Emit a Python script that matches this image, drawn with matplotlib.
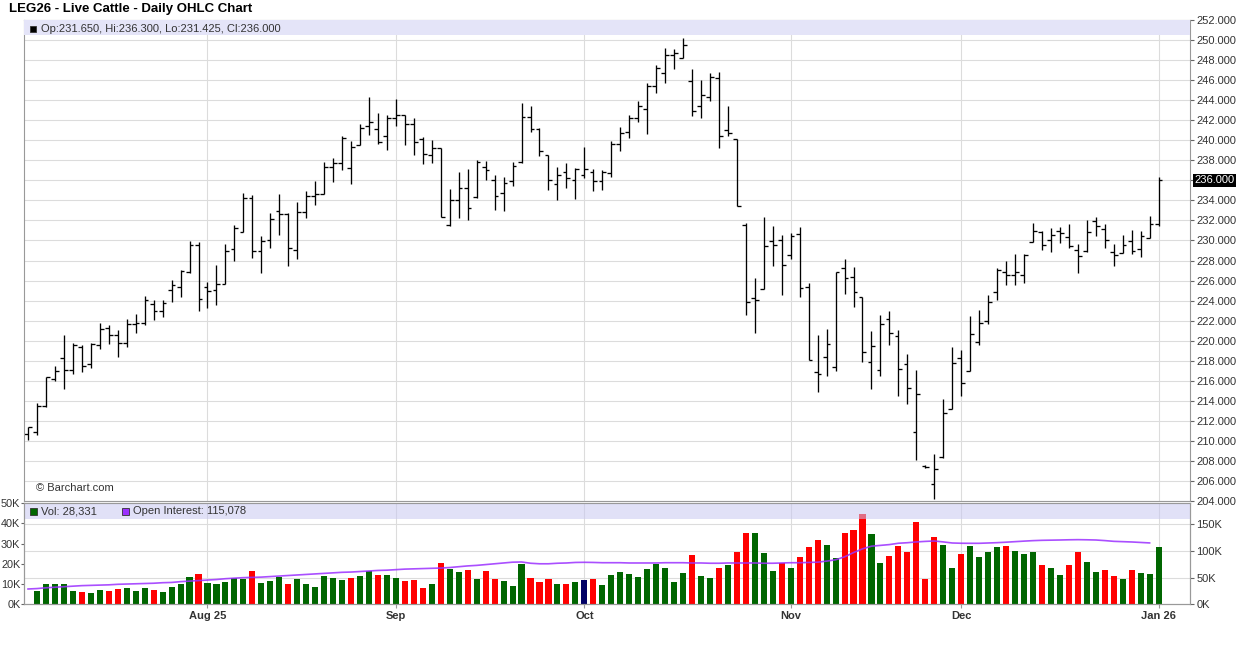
import numpy as np
import pandas as pd
import matplotlib
matplotlib.use("Agg")
import matplotlib.pyplot as plt
from matplotlib.patches import Rectangle

plt.rcParams['font.family'] = ['Liberation Sans', 'DejaVu Sans']

# ---------------------------
# DATA
# ---------------------------
holidays = pd.to_datetime(["2025-07-04", "2025-09-01", "2025-11-27", "2025-12-25", "2026-01-01"])
dates = pd.bdate_range("2025-07-03", "2026-01-02")
dates = dates[~dates.isin(holidays)]

open_ = [210.65, 210.9, 213.5, 216.2, 218.3, 217.1, 219.4, 217.7, 219.6, 221.3,
         220.6, 219.8, 221.7, 221.8, 223.7, 223.0, 225.1, 225.4, 226.85, 229.5,
         225.4, 225.1, 225.7, 229.1, 230.8, 234.2, 228.9, 230.0, 232.9, 232.6,
         229.0, 232.8, 234.4, 234.6, 237.3, 237.7, 237.2, 239.5, 241.4, 241.1,
         240.4, 242.2, 242.5, 241.6, 240.1, 238.5, 239.2, 231.5, 234.0, 235.2,
         234.3, 237.3, 236.0, 234.7, 235.9, 237.8, 242.3, 241.1, 238.5, 235.6,
         236.8, 236.0, 236.5, 236.8, 235.9, 236.7, 239.6, 240.8, 242.2, 243.1,
         245.4, 246.7, 248.5, 248.2, 245.9, 243.4, 244.3, 246.2, 241.0, 240.1,
         231.5, 224.3, 225.2, 229.9, 230.0, 228.5, 230.6, 225.4, 216.9, 218.4,
         217.4, 227.3, 226.4, 224.4, 217.9, 217.1, 222.2, 220.5, 217.7, 210.9,
         207.5, 205.7, 208.4, 213.2, 218.3, 217.0, 219.9, 222.0, 224.9, 226.9,
         226.6, 226.6, 229.8, 230.8, 230.0, 230.9, 230.3, 229.0, 228.9, 231.9,
         231.1, 228.8, 228.7, 229.9, 229.1, 230.2, 231.65]
high = [211.4, 213.8, 216.4, 217.5, 220.6, 219.8, 219.6, 219.8, 221.8, 221.6,
        221.1, 222.2, 222.7, 224.5, 224.1, 224.1, 226.1, 227.1, 229.9, 229.8,
        225.85, 227.6, 229.6, 231.5, 234.7, 234.5, 230.4, 232.7, 234.6, 232.7,
        233.8, 234.9, 235.9, 237.8, 238.2, 240.4, 239.9, 241.6, 244.3, 242.7,
        242.5, 244.1, 242.5, 242.2, 240.3, 240.0, 239.2, 235.1, 236.8, 237.1,
        238.0, 237.9, 236.5, 236.3, 237.8, 243.7, 243.4, 241.2, 238.5, 237.3,
        237.7, 237.2, 239.3, 237.1, 237.0, 239.9, 241.3, 242.5, 243.9, 245.7,
        247.5, 249.2, 249.1, 250.2, 247.1, 246.0, 246.7, 246.8, 243.4, 240.1,
        231.7, 226.3, 232.3, 231.4, 230.5, 230.7, 231.3, 225.8, 220.6, 221.2,
        226.9, 228.1, 227.4, 224.4, 221.0, 222.6, 223.0, 221.1, 218.7, 217.1,
        207.6, 208.7, 214.2, 219.4, 219.1, 222.5, 223.1, 224.6, 227.3, 228.0,
        228.6, 228.6, 231.7, 230.9, 231.2, 231.3, 231.6, 229.6, 232.0, 232.3,
        231.6, 229.6, 230.5, 231.0, 230.9, 232.4, 236.3]
low = [210.1, 210.55, 213.4, 216.0, 215.2, 216.7, 216.9, 217.3, 219.2, 219.7,
       218.4, 219.4, 220.8, 221.6, 222.1, 222.4, 223.9, 224.4, 226.8, 223.0,
       223.25, 223.6, 225.7, 228.0, 230.8, 228.2, 226.8, 229.2, 230.5, 227.5,
       228.1, 232.2, 233.5, 234.6, 235.8, 237.0, 235.6, 239.5, 240.5, 239.6,
       239.0, 241.4, 239.5, 238.5, 237.6, 237.7, 232.3, 231.4, 232.2, 232.0,
       234.2, 236.0, 233.0, 232.9, 235.4, 237.7, 240.8, 238.4, 235.0, 234.0,
       235.2, 234.1, 236.2, 234.9, 235.0, 236.3, 238.9, 240.2, 241.8, 240.6,
       244.7, 245.7, 247.1, 248.2, 242.4, 242.2, 243.9, 239.2, 240.4, 233.4,
       222.6, 220.8, 225.2, 227.5, 224.6, 228.1, 224.4, 218.1, 214.9, 216.5,
       217.0, 224.7, 223.4, 217.9, 215.2, 216.5, 219.6, 214.5, 213.7, 208.1,
       207.3, 204.2, 208.3, 213.2, 214.5, 217.0, 219.6, 221.7, 224.1, 225.6,
       225.6, 225.8, 229.8, 229.0, 228.8, 229.7, 229.2, 226.8, 228.8, 230.4,
       229.2, 227.5, 228.7, 228.6, 228.3, 230.2, 231.425]
close = [211.35, 213.5, 216.35, 217.0, 217.1, 219.6, 217.5, 219.7, 221.2, 220.6,
         219.8, 221.7, 221.8, 224.1, 223.0, 223.8, 225.6, 227.0, 229.5, 224.2,
         225.0, 225.7, 228.9, 231.2, 234.2, 228.9, 229.9, 232.1, 232.6, 229.2,
         232.8, 234.4, 234.6, 237.3, 237.7, 240.2, 239.3, 241.2, 241.8, 239.8,
         242.2, 242.5, 241.6, 239.8, 238.6, 239.2, 232.3, 234.0, 235.2, 233.2,
         237.8, 237.0, 234.4, 235.7, 237.4, 242.3, 241.1, 238.9, 236.0, 236.5,
         236.2, 237.1, 237.1, 235.9, 236.8, 239.6, 240.7, 242.2, 243.4, 245.4,
         247.2, 248.5, 248.7, 249.5, 242.9, 244.5, 246.3, 240.4, 240.7, 233.4,
         223.9, 224.1, 229.4, 229.5, 227.6, 230.4, 225.3, 218.1, 216.7, 219.7,
         226.9, 226.3, 224.9, 218.9, 219.5, 221.7, 220.8, 217.2, 215.3, 214.7,
         207.4, 207.2, 212.8, 217.8, 215.8, 220.7, 221.8, 223.9, 227.1, 226.6,
         226.9, 228.5, 230.9, 229.5, 230.5, 230.7, 229.4, 228.4, 230.8, 231.4,
         230.0, 228.5, 229.5, 228.9, 230.4, 231.6, 236.0]

# volume in thousands (left scale), first day not shown
volume = [np.nan, 6.6, 10.0, 10.0, 10.0, 6.6, 6.1, 5.6, 7.1, 6.6,
          7.6, 8.0, 6.6, 8.0, 7.1, 6.1, 8.5, 10.0, 13.5, 14.9,
          10.5, 10.0, 11.0, 13.0, 12.5, 16.4, 10.5, 11.5, 13.5, 10.0,
          12.5, 10.0, 8.5, 14.0, 13.0, 12.0, 13.0, 14.0, 16.4, 14.5,
          14.5, 13.0, 11.5, 12.0, 8.0, 10.0, 20.4, 17.4, 15.9, 16.9,
          12.5, 16.4, 12.5, 11.5, 9.0, 19.9, 13.0, 11.0, 12.5, 10.0,
          10.0, 11.0, 12.0, 12.5, 9.5, 14.5, 15.9, 14.9, 13.5, 17.4,
          19.9, 17.9, 11.0, 15.4, 24.3, 14.0, 13.0, 17.9, 19.4, 25.8,
          35.1, 35.1, 25.3, 16.4, 20.4, 17.9, 23.3, 28.2, 31.7, 29.2,
          22.8, 35.1, 36.6, 44.5, 34.6, 20.4, 23.8, 28.7, 25.8, 40.6,
          12.5, 33.2, 29.2, 17.9, 24.8, 28.7, 23.3, 25.8, 28.2, 28.7,
          26.3, 24.8, 25.8, 19.4, 17.9, 14.5, 19.4, 25.8, 20.9, 15.9,
          16.9, 14.0, 12.5, 16.9, 15.4, 14.9, 28.331]

# open interest in thousands (right scale), last day not yet reported
open_interest = [28.7, 29.5, 31.0, 32.0, 33.0, 34.0, 35.0, 35.5, 36.0, 36.5,
                 37.5, 38.0, 38.5, 39.0, 39.5, 40.5, 41.0, 42.5, 43.5, 44.5,
                 45.5, 46.5, 48.0, 49.0, 50.0, 50.5, 51.0, 52.0, 53.0, 54.0,
                 55.0, 56.0, 57.0, 58.0, 59.0, 60.0, 60.5, 61.5, 62.5, 63.5,
                 64.0, 65.0, 66.0, 66.5, 67.0, 67.5, 68.0, 69.0, 70.5, 72.0,
                 73.0, 74.5, 76.0, 77.5, 79.0, 79.4, 77.0, 76.0, 76.0, 77.0,
                 77.5, 78.5, 78.75, 78.5, 78.0, 78.0, 78.0, 77.5, 77.5, 77.5,
                 77.5, 78.0, 78.0, 78.0, 77.5, 77.5, 77.0, 77.0, 77.5, 77.5,
                 77.5, 77.5, 77.0, 77.0, 77.5, 78.0, 78.0, 78.5, 79.0, 81.0,
                 83.5, 89.0, 97.0, 104.0, 109.0, 110.5, 112.0, 114.5, 115.5, 117.0,
                 118.0, 118.75, 117.0, 115.0, 114.5, 114.4, 114.4, 115.0, 115.6, 116.5,
                 117.5, 118.5, 119.4, 120.0, 120.3, 120.6, 121.0, 121.25, 121.0, 120.6,
                 119.5, 118.1, 117.5, 116.9, 116.0, 115.1, np.nan]

month_labels = ["Aug 25", "Sep", "Oct", "Nov", "Dec", "Jan 26"]

# ---------------------------
# SETUP
# ---------------------------
W, H = 1236, 645
x = np.arange(len(close))
open_ = np.array(open_)
high = np.array(high)
low = np.array(low)
close = np.array(close)
volume = np.array(volume)
open_interest = np.array(open_interest)

period = dates.to_period("M")
month_idx = [i for i in range(1, len(dates)) if period[i] != period[i - 1]]

chg = np.diff(close, prepend=np.nan)
vol_colors = np.where(chg > 0, "#006600", np.where(chg < 0, "#ff0000", "#000066"))

grid_c = "#dcdcdc"
spine_c = "#999999"
txt_c = "#333333"


def rect(x0, y0, x1, y1):
    return [x0 / W, 1 - y1 / H, (x1 - x0) / W, (y1 - y0) / H]


def fig_box(x0, y0, w, h, color):
    fig.add_artist(Rectangle((x0 / W, 1 - (y0 + h) / H), w / W, h / H,
                             transform=fig.transFigure, fc=color, ec="#333333", lw=0.6))


fig = plt.figure(figsize=(W / 100, H / 100), dpi=100)
xlim = (-0.45, 129.5)

# ---------------------------
# PRICE PANEL
# ---------------------------
ax = fig.add_axes(rect(24, 20, 1190, 501))
ax.set_xlim(*xlim)
ax.set_ylim(204, 252)
ax.set_xticks(month_idx)
ax.tick_params(axis="x", length=0, labelbottom=False)
ax.yaxis.tick_right()
ticks = np.arange(204, 253, 2)
ax.set_yticks(ticks)
ax.set_yticklabels(["" if t == 236 else f"{t:.3f}" for t in ticks])
ax.tick_params(axis="y", length=3, width=0.8, color="#666666", labelsize=8,
               labelcolor=txt_c, pad=1.5)
ax.grid(True, color=grid_c, lw=0.8)
ax.set_axisbelow(True)
for s in ax.spines.values():
    s.set_color(spine_c)

ax.vlines(x, low, high, color="black", lw=0.95)
ax.hlines(open_, x - 0.42, x, color="black", lw=0.95)
ax.hlines(close, x, x + 0.42, color="black", lw=0.95)

ax.add_patch(Rectangle((0, 0.969), 1, 0.031, transform=ax.transAxes,
                       fc="#e4e4f8", ec="none", zorder=3))
ax.annotate(f"{close[-1]:.3f}", xy=(1, close[-1]), xycoords=("axes fraction", "data"),
            xytext=(3.3, 0), textcoords="offset points", ha="left", va="center",
            fontsize=8, color="white", annotation_clip=False,
            bbox=dict(boxstyle="square,pad=0.12", fc="black", ec="none"))
ax.text(0.010, 0.027, "© Barchart.com", transform=ax.transAxes, fontsize=8,
        color=txt_c, va="center")

# ---------------------------
# VOLUME PANEL
# ---------------------------
axv = fig.add_axes(rect(24, 503, 1190, 604.3))
axv.set_xlim(*xlim)
vmax, oimax = 50, 190
axv.set_ylim(0, vmax)
axv.set_yticks(np.arange(0, 51, 10))
axv.set_yticklabels([f"{v}K" for v in range(0, 51, 10)])
axv.tick_params(axis="y", length=2, width=0.8, color="#666666", labelsize=7.8,
                labelcolor=txt_c, pad=0.6)
axv.set_xticks(month_idx)
axv.set_xticklabels(month_labels, fontsize=8, fontweight="bold", color=txt_c)
axv.tick_params(axis="x", length=3, color=spine_c, pad=1.5)
axv.grid(True, axis="x", color=grid_c, lw=0.8)
axv.set_axisbelow(True)
for v in (50, 100, 150):
    axv.axhline(v * vmax / oimax, color=grid_c, lw=0.8, zorder=0.5)
for s in axv.spines.values():
    s.set_color(spine_c)

axv.bar(x[1:], volume[1:], width=0.68, color=vol_colors[1:], zorder=2)

axo = axv.twinx()
axo.set_xlim(*xlim)
axo.set_ylim(0, oimax)
axo.set_yticks([0, 50, 100, 150])
axo.set_yticklabels(["0K", "50K", "100K", "150K"])
axo.tick_params(axis="y", length=3, width=0.8, color="#666666", labelsize=8,
                labelcolor=txt_c, pad=1.5)
for s in axo.spines.values():
    s.set_color(spine_c)
axo.plot(x, open_interest, color="#9b30ff", lw=1.2, alpha=0.85, zorder=3)
axo.add_patch(Rectangle((0, 0.842), 1, 0.158, transform=axo.transAxes,
                        fc=(0.79, 0.79, 0.945), alpha=0.55, ec="none", zorder=2))

# ---------------------------
# TEXT / LEGENDS
# ---------------------------
fig.text(9 / W, 1 - 9 / H, "LEG26 - Live Cattle - Daily OHLC Chart", fontsize=9.5,
         fontweight="bold", color="black", va="center", ha="left")

fig_box(29.5, 26, 6, 6, "black")
fig.text(41 / W, 1 - 29 / H,
         f"Op:{open_[-1]:.3f}, Hi:{high[-1]:.3f}, Lo:{low[-1]:.3f}, Cl:{close[-1]:.3f}",
         fontsize=8, color=txt_c, va="center", ha="left")

fig_box(29.5, 508, 7, 7, "#006600")
fig.text(41 / W, 1 - 511.5 / H, f"Vol: {volume[-1] * 1000:,.0f}", fontsize=8,
         color=txt_c, va="center", ha="left")
fig_box(122, 508, 7, 7, "#9b30ff")
fig.text(133 / W, 1 - 511.5 / H, "Open Interest: 115,078", fontsize=8,
         color=txt_c, va="center", ha="left")

fig.savefig("out.png", dpi=100)
